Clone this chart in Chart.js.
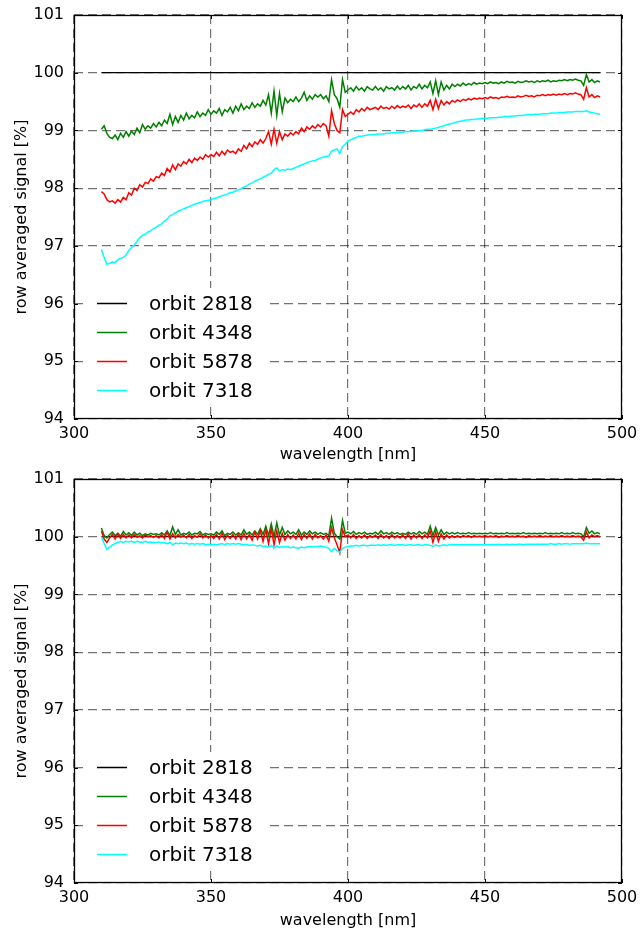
<!DOCTYPE html>
<html>
<head>
<meta charset="utf-8">
<script src="https://cdn.jsdelivr.net/npm/chart.js@4/dist/chart.umd.min.js"></script>
<style>
  html, body { margin: 0; padding: 0; background: #fff; }
  .box { position: absolute; left: 0; width: 641px; height: 466px; }
</style>
</head>
<body>
<div class="box" style="top:0"><canvas id="topChart" width="641" height="466"></canvas></div>
<div class="box" style="top:466px"><canvas id="bottomChart" width="641" height="466"></canvas></div>
<script>
// wavelength grid [nm], 1 nm steps
const wavelength = [
  310, 311, 312, 313, 314, 315, 316, 317, 318, 319,
  320, 321, 322, 323, 324, 325, 326, 327, 328, 329,
  330, 331, 332, 333, 334, 335, 336, 337, 338, 339,
  340, 341, 342, 343, 344, 345, 346, 347, 348, 349,
  350, 351, 352, 353, 354, 355, 356, 357, 358, 359,
  360, 361, 362, 363, 364, 365, 366, 367, 368, 369,
  370, 371, 372, 373, 374, 375, 376, 377, 378, 379,
  380, 381, 382, 383, 384, 385, 386, 387, 388, 389,
  390, 391, 392, 393, 394, 395, 396, 397, 398, 399,
  400, 401, 402, 403, 404, 405, 406, 407, 408, 409,
  410, 411, 412, 413, 414, 415, 416, 417, 418, 419,
  420, 421, 422, 423, 424, 425, 426, 427, 428, 429,
  430, 431, 432, 433, 434, 435, 436, 437, 438, 439,
  440, 441, 442, 443, 444, 445, 446, 447, 448, 449,
  450, 451, 452, 453, 454, 455, 456, 457, 458, 459,
  460, 461, 462, 463, 464, 465, 466, 467, 468, 469,
  470, 471, 472, 473, 474, 475, 476, 477, 478, 479,
  480, 481, 482, 483, 484, 485, 486, 487, 488, 489,
  490, 491, 492
];

// reference orbit is flat at 100 %
const refWavelength = [310, 492];
const orbit2818 = [100, 100];

const xTicks = [300, 350, 400, 450, 500];
const yTicks = [94, 95, 96, 97, 98, 99, 100, 101];
const labels = ['orbit 2818', 'orbit 4348', 'orbit 5878', 'orbit 7318'];
const colors = ['#000000', '#008000', '#ff0000', '#00ffff'];

// upper panel
const top4348 = [
  99.02, 99.08, 98.95, 98.88, 98.86, 98.92, 98.84, 98.95, 98.88, 98.98,
  98.90, 98.99, 98.93, 99.04, 98.96, 99.10, 99.02, 99.08, 99.04, 99.12,
  99.06, 99.14, 99.08, 99.18, 99.12, 99.28, 99.10, 99.24, 99.14, 99.26,
  99.18, 99.30, 99.20, 99.26, 99.22, 99.32, 99.24, 99.30, 99.26, 99.36,
  99.28, 99.34, 99.30, 99.38, 99.26, 99.36, 99.32, 99.40, 99.30, 99.42,
  99.34, 99.46, 99.36, 99.42, 99.38, 99.48, 99.40, 99.46, 99.42, 99.52,
  99.44, 99.62, 99.30, 99.68, 99.26, 99.64, 99.32, 99.56, 99.48, 99.54,
  99.50, 99.58, 99.50, 99.56, 99.66, 99.52, 99.60, 99.54, 99.62, 99.58,
  99.62, 99.55, 99.60, 99.50, 99.88, 99.62, 99.55, 99.40, 99.88, 99.66,
  99.70, 99.74, 99.68, 99.76, 99.70, 99.74, 99.68, 99.76, 99.72, 99.70,
  99.76, 99.70, 99.74, 99.68, 99.76, 99.72, 99.74, 99.70, 99.77, 99.71,
  99.76, 99.72, 99.78, 99.70, 99.76, 99.73, 99.80, 99.72, 99.78, 99.74,
  99.84, 99.64, 99.86, 99.62, 99.84, 99.70, 99.78, 99.72, 99.80, 99.76,
  99.80, 99.77, 99.82, 99.78, 99.81, 99.79, 99.83, 99.80, 99.82, 99.81,
  99.83, 99.81, 99.84, 99.82, 99.83, 99.81, 99.84, 99.82, 99.85, 99.83,
  99.84, 99.82, 99.85, 99.83, 99.84, 99.86, 99.84, 99.85, 99.83, 99.86,
  99.84, 99.86, 99.85, 99.87, 99.84, 99.86, 99.85, 99.87, 99.86, 99.88,
  99.86, 99.88, 99.87, 99.89, 99.87, 99.86, 99.78, 99.97, 99.84, 99.88,
  99.83, 99.86, 99.84
];
const top5878 = [
  97.94, 97.90, 97.80, 97.76, 97.78, 97.74, 97.80, 97.76, 97.84, 97.80,
  97.92, 97.88, 98.00, 97.96, 98.06, 98.02, 98.10, 98.08, 98.16, 98.12,
  98.20, 98.18, 98.26, 98.22, 98.34, 98.28, 98.40, 98.32, 98.42, 98.38,
  98.46, 98.42, 98.50, 98.44, 98.52, 98.48, 98.54, 98.50, 98.58, 98.54,
  98.58, 98.55, 98.62, 98.56, 98.64, 98.58, 98.66, 98.62, 98.64, 98.60,
  98.68, 98.64, 98.74, 98.68, 98.78, 98.72, 98.80, 98.76, 98.84, 98.78,
  98.86, 98.98, 98.76, 99.02, 98.78, 98.98, 98.84, 98.94, 98.90, 98.96,
  98.92, 98.98, 98.94, 99.04, 98.98, 99.06, 99.02, 99.08, 99.04, 99.10,
  99.06, 99.12, 99.08, 98.90, 99.34, 99.12, 99.00, 98.96, 99.36, 99.24,
  99.28, 99.32, 99.28, 99.36, 99.32, 99.38, 99.34, 99.40, 99.36, 99.38,
  99.40, 99.36, 99.42, 99.38, 99.40, 99.37, 99.42, 99.38, 99.43, 99.39,
  99.42, 99.40, 99.44, 99.38, 99.44, 99.41, 99.46, 99.40, 99.46, 99.42,
  99.52, 99.36, 99.54, 99.38, 99.52, 99.44, 99.50, 99.46, 99.52, 99.49,
  99.53, 99.50, 99.54, 99.52, 99.55, 99.53, 99.56, 99.54, 99.56, 99.55,
  99.57, 99.55, 99.58, 99.56, 99.57, 99.55, 99.58, 99.57, 99.59, 99.57,
  99.58, 99.57, 99.60, 99.58, 99.59, 99.61, 99.59, 99.60, 99.58, 99.61,
  99.60, 99.62, 99.60, 99.62, 99.61, 99.63, 99.61, 99.63, 99.62, 99.64,
  99.62, 99.64, 99.63, 99.65, 99.63, 99.62, 99.54, 99.74, 99.58, 99.62,
  99.57, 99.60, 99.58
];
const top7318 = [
  96.94, 96.80, 96.68, 96.70, 96.72, 96.71, 96.76, 96.78, 96.80, 96.84,
  96.92, 96.97, 97.02, 97.08, 97.14, 97.18, 97.20, 97.24, 97.26, 97.30,
  97.32, 97.36, 97.38, 97.43, 97.46, 97.52, 97.54, 97.57, 97.60, 97.62,
  97.64, 97.66, 97.68, 97.70, 97.72, 97.74, 97.75, 97.77, 97.78, 97.79,
  97.80, 97.82, 97.83, 97.85, 97.87, 97.88, 97.90, 97.92, 97.93, 97.95,
  97.97, 97.99, 98.02, 98.04, 98.07, 98.09, 98.12, 98.14, 98.16, 98.19,
  98.21, 98.24, 98.26, 98.32, 98.35, 98.30, 98.32, 98.31, 98.33, 98.32,
  98.34, 98.36, 98.38, 98.40, 98.42, 98.44, 98.46, 98.47, 98.48, 98.50,
  98.52, 98.54, 98.55, 98.56, 98.64, 98.66, 98.68, 98.60, 98.72, 98.76,
  98.82, 98.84, 98.86, 98.88, 98.90, 98.90, 98.91, 98.92, 98.92, 98.93,
  98.93, 98.94, 98.94, 98.94, 98.95, 98.95, 98.96, 98.96, 98.96, 98.97,
  98.97, 98.98, 98.98, 98.98, 98.99, 98.99, 99.00, 99.00, 99.01, 99.02,
  99.02, 99.03, 99.04, 99.05, 99.07, 99.08, 99.10, 99.11, 99.12, 99.14,
  99.15, 99.16, 99.17, 99.18, 99.18, 99.19, 99.19, 99.20, 99.20, 99.21,
  99.21, 99.21, 99.22, 99.22, 99.22, 99.23, 99.23, 99.24, 99.24, 99.24,
  99.25, 99.25, 99.26, 99.26, 99.26, 99.27, 99.27, 99.27, 99.28, 99.28,
  99.28, 99.29, 99.29, 99.29, 99.30, 99.30, 99.30, 99.31, 99.31, 99.31,
  99.32, 99.32, 99.32, 99.33, 99.33, 99.33, 99.33, 99.34, 99.32, 99.31,
  99.30, 99.29, 99.28
];

// lower panel
const bot4348 = [
  100.15, 100.02, 99.98, 100.04, 100.08, 100.02, 100.06, 100.01, 100.09, 100.03,
  100.07, 100.02, 100.08, 100.03, 100.06, 100.02, 100.05, 100.03, 100.06, 100.04,
  100.05, 100.03, 100.07, 100.03, 100.10, 100.02, 100.17, 100.04, 100.12, 100.03,
  100.06, 100.04, 100.08, 100.03, 100.06, 100.05, 100.09, 100.03, 100.06, 100.04,
  100.05, 100.03, 100.08, 100.04, 100.10, 100.02, 100.06, 100.04, 100.08, 100.03,
  100.07, 100.03, 100.12, 100.04, 100.08, 100.03, 100.10, 100.04, 100.14, 100.04,
  100.18, 100.02, 100.22, 100.00, 100.24, 100.03, 100.16, 100.04, 100.10, 100.05,
  100.08, 100.04, 100.12, 100.03, 100.08, 100.04, 100.10, 100.05, 100.08, 100.04,
  100.07, 100.04, 100.06, 100.02, 100.32, 100.06, 100.00, 99.96, 100.28, 100.06,
  100.08, 100.05, 100.09, 100.04, 100.07, 100.05, 100.08, 100.04, 100.06, 100.05,
  100.08, 100.04, 100.10, 100.05, 100.07, 100.04, 100.08, 100.05, 100.07, 100.04,
  100.06, 100.04, 100.08, 100.05, 100.07, 100.04, 100.09, 100.05, 100.08, 100.04,
  100.18, 100.02, 100.16, 100.03, 100.12, 100.04, 100.08, 100.05, 100.07, 100.05,
  100.07, 100.05, 100.06, 100.05, 100.07, 100.05, 100.06, 100.05, 100.06, 100.05,
  100.06, 100.05, 100.07, 100.05, 100.06, 100.05, 100.06, 100.05, 100.07, 100.05,
  100.06, 100.05, 100.06, 100.05, 100.07, 100.05, 100.06, 100.05, 100.06, 100.05,
  100.06, 100.05, 100.07, 100.05, 100.06, 100.05, 100.06, 100.05, 100.07, 100.05,
  100.06, 100.05, 100.07, 100.05, 100.06, 100.05, 100.00, 100.16, 100.06, 100.10,
  100.05, 100.07, 100.05
];
const bot5878 = [
  100.10, 99.96, 99.90, 99.98, 100.04, 99.96, 100.05, 99.97, 100.04, 99.98,
  100.03, 99.98, 100.04, 99.99, 100.02, 99.98, 100.03, 100.00, 100.02, 99.99,
  100.02, 99.98, 100.04, 99.97, 100.08, 99.96, 100.05, 99.98, 100.04, 99.99,
  100.03, 99.98, 100.04, 99.97, 100.02, 99.99, 100.05, 99.98, 100.03, 99.98,
  100.02, 99.97, 100.04, 99.96, 100.06, 99.95, 100.03, 99.97, 100.04, 99.96,
  100.05, 99.95, 100.06, 99.96, 100.04, 99.94, 100.08, 99.96, 100.10, 99.92,
  100.12, 99.88, 100.14, 99.86, 100.10, 99.90, 100.06, 99.94, 100.04, 99.97,
  100.03, 99.96, 100.06, 99.95, 100.04, 99.97, 100.05, 99.96, 100.04, 99.98,
  100.02, 99.96, 100.03, 99.92, 100.16, 99.98, 99.86, 99.72, 100.12, 100.00,
  100.03, 99.98, 100.04, 99.97, 100.02, 99.98, 100.03, 99.97, 100.02, 99.99,
  100.03, 99.97, 100.04, 99.98, 100.02, 99.97, 100.04, 99.98, 100.02, 99.98,
  100.03, 99.97, 100.05, 99.96, 100.03, 99.98, 100.04, 99.97, 100.03, 99.98,
  100.10, 99.90, 100.08, 99.92, 100.05, 99.96, 100.03, 99.98, 100.02, 99.99,
  100.02, 99.99, 100.02, 100.00, 100.02, 99.99, 100.02, 100.00, 100.01, 100.00,
  100.02, 100.00, 100.01, 100.00, 100.02, 99.99, 100.01, 100.00, 100.02, 100.00,
  100.01, 100.00, 100.02, 100.00, 100.01, 99.99, 100.02, 100.00, 100.01, 100.00,
  100.02, 100.00, 100.01, 100.00, 100.02, 100.00, 100.01, 100.00, 100.02, 100.00,
  100.01, 100.00, 100.02, 100.00, 100.01, 100.00, 99.94, 100.08, 99.98, 100.03,
  100.00, 100.02, 100.00
];
const bot7318 = [
  100.00, 99.88, 99.78, 99.82, 99.86, 99.88, 99.90, 99.92, 99.90, 99.92,
  99.91, 99.92, 99.90, 99.92, 99.91, 99.90, 99.92, 99.90, 99.91, 99.90,
  99.90, 99.91, 99.89, 99.90, 99.88, 99.90, 99.86, 99.89, 99.88, 99.89,
  99.88, 99.89, 99.87, 99.88, 99.87, 99.88, 99.87, 99.88, 99.86, 99.87,
  99.86, 99.87, 99.86, 99.87, 99.88, 99.86, 99.88, 99.87, 99.88, 99.87,
  99.88, 99.87, 99.86, 99.87, 99.85, 99.86, 99.85, 99.84, 99.85, 99.83,
  99.84, 99.82, 99.85, 99.80, 99.84, 99.81, 99.83, 99.82, 99.83, 99.81,
  99.82, 99.81, 99.80, 99.82, 99.81, 99.82, 99.83, 99.82, 99.83, 99.83,
  99.84, 99.83, 99.82, 99.80, 99.74, 99.80, 99.76, 99.73, 99.80, 99.82,
  99.83, 99.84, 99.84, 99.85, 99.84, 99.85, 99.85, 99.84, 99.85, 99.85,
  99.85, 99.86, 99.85, 99.86, 99.85, 99.86, 99.86, 99.85, 99.86, 99.86,
  99.86, 99.85, 99.86, 99.86, 99.85, 99.86, 99.86, 99.85, 99.86, 99.86,
  99.85, 99.83, 99.86, 99.84, 99.85, 99.86, 99.85, 99.86, 99.86, 99.86,
  99.86, 99.86, 99.86, 99.86, 99.86, 99.86, 99.86, 99.86, 99.86, 99.86,
  99.86, 99.86, 99.86, 99.86, 99.86, 99.87, 99.86, 99.86, 99.87, 99.86,
  99.87, 99.86, 99.87, 99.87, 99.86, 99.87, 99.87, 99.87, 99.87, 99.87,
  99.87, 99.87, 99.87, 99.87, 99.88, 99.87, 99.87, 99.88, 99.87, 99.88,
  99.88, 99.87, 99.88, 99.88, 99.88, 99.88, 99.88, 99.89, 99.88, 99.88,
  99.88, 99.88, 99.88
];

const FONT = 'DejaVu Sans';

function pairs(xs, ys) {
  return xs.map((x, i) => ({ x: x, y: ys[i] }));
}

// legend inside lower left + frame with inward ticks
const panelDecor = {
  id: 'panelDecor',
  afterDatasetsDraw(chart) {
    const ctx = chart.ctx;
    const a = chart.chartArea;
    const sets = chart.data.datasets;
    const rowH = 29;
    const lastY = a.bottom - 29;
    const firstY = lastY - rowH * (sets.length - 1);
    ctx.save();
    ctx.fillStyle = '#fff';
    ctx.fillRect(a.left + 11, firstY - 15, 180, rowH * (sets.length - 1) + 30);
    ctx.font = '20px "' + FONT + '"';
    ctx.textBaseline = 'middle';
    sets.forEach((ds, i) => {
      const y = Math.round(firstY + i * rowH) + 0.5;
      ctx.strokeStyle = ds.borderColor;
      ctx.lineWidth = 1.5;
      ctx.beginPath();
      ctx.moveTo(a.left + 23, y);
      ctx.lineTo(a.left + 53, y);
      ctx.stroke();
      ctx.fillStyle = '#000';
      ctx.fillText(ds.label, a.left + 75, y + 1);
    });
    ctx.restore();
  },
  afterDraw(chart) {
    const ctx = chart.ctx;
    const a = chart.chartArea;
    const xs = chart.scales.x, ys = chart.scales.y;
    ctx.save();
    ctx.strokeStyle = '#000';
    ctx.lineWidth = 1;
    ctx.beginPath();
    xTicks.forEach(v => {
      const px = Math.round(xs.getPixelForValue(v)) + 0.5;
      ctx.moveTo(px, a.bottom); ctx.lineTo(px, a.bottom - 4);
      ctx.moveTo(px, a.top); ctx.lineTo(px, a.top + 4);
    });
    yTicks.forEach(v => {
      const py = Math.round(ys.getPixelForValue(v)) + 0.5;
      ctx.moveTo(a.left, py); ctx.lineTo(a.left + 4, py);
      ctx.moveTo(a.right, py); ctx.lineTo(a.right - 4, py);
    });
    ctx.stroke();
    ctx.lineWidth = 1.3;
    ctx.strokeRect(a.left + 0.5, a.top + 0.5, a.right - a.left - 1, a.bottom - a.top - 1);
    ctx.restore();
  }
};

function makePanel(id, series, padTop, xHeight) {
  const sets = [refWavelength, wavelength, wavelength, wavelength];
  const datasets = series.map((ys, i) => ({
    label: labels[i],
    data: pairs(sets[i], ys),
    borderColor: colors[i],
    backgroundColor: colors[i],
    borderWidth: i === 0 ? 1.2 : 1.5,
    pointRadius: 0,
    tension: 0,
    fill: false,
    order: series.length - i
  }));

  return new Chart(document.getElementById(id).getContext('2d'), {
    type: 'line',
    data: { datasets: datasets },
    options: {
      responsive: false,
      animation: false,
      layout: { padding: { left: 0, right: 19, top: padTop, bottom: 0 } },
      plugins: {
        legend: { display: false },
        tooltip: { enabled: false }
      },
      scales: {
        x: {
          type: 'linear',
          min: 300,
          max: 500,
          afterBuildTicks: s => { s.ticks = xTicks.map(v => ({ value: v })); },
          afterFit: s => { s.height = xHeight; s.paddingLeft = 0; s.paddingRight = 0; },
          ticks: { color: '#000', font: { family: FONT, size: 16 }, padding: 5, maxRotation: 0 },
          grid: { color: 'rgba(0,0,0,0.55)', lineWidth: 1.2, drawTicks: false },
          border: { display: false, dash: [9, 5] },
          title: {
            display: true, text: 'wavelength [nm]', color: '#000',
            font: { family: FONT, size: 16 }, padding: { top: 0, bottom: 2 }
          }
        },
        y: {
          min: 94,
          max: 101,
          afterBuildTicks: s => { s.ticks = yTicks.map(v => ({ value: v })); },
          afterFit: s => { s.width = 74; s.paddingTop = 0; s.paddingBottom = 0; },
          ticks: { color: '#000', font: { family: FONT, size: 16 }, padding: 10 },
          grid: { color: 'rgba(0,0,0,0.55)', lineWidth: 1.2, drawTicks: false },
          border: { display: false, dash: [9, 5] },
          title: {
            display: true, text: 'row averaged signal [%]', color: '#000',
            font: { family: FONT, size: 16 }, padding: { top: 12, bottom: 0 }
          }
        }
      }
    },
    plugins: [panelDecor]
  });
}

makePanel('topChart', [orbit2818, top4348, top5878, top7318], 15, 47);
makePanel('bottomChart', [orbit2818, bot4348, bot5878, bot7318], 13, 49);
</script>
</body>
</html>
